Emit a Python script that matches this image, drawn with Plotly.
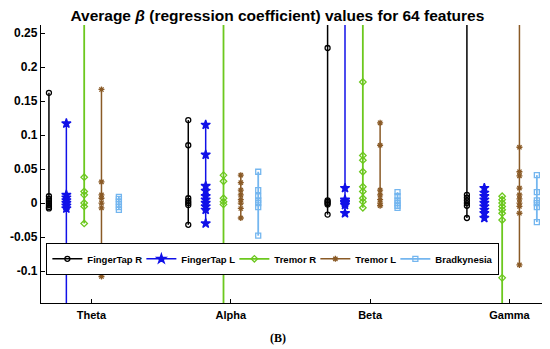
import plotly.graph_objects as go

bands = ["Theta", "Alpha", "Beta", "Gamma"]
series_names = ["FingerTap R", "FingerTap L", "Tremor R", "Tremor L", "Bradkynesia"]

# values per band (Theta, Alpha, Beta, Gamma); values beyond the axis range are clipped
fingertap_r = [
    [0.162, 0.010, 0.006, 0.003, 0.0, -0.003, -0.006, -0.008],
    [0.122, 0.085, 0.007, 0.003, 0.0, -0.003, -0.032],
    [0.30, 0.228, 0.004, 0.002, 0.0, -0.002, -0.017],
    [0.30, 0.012, 0.008, 0.004, 0.0, -0.004, -0.022],
]
fingertap_l = [
    [0.117, 0.012, 0.008, 0.004, 0.0, -0.004, -0.008, -0.20],
    [0.115, 0.071, 0.025, 0.018, 0.010, 0.005, 0.0, -0.005, -0.010, -0.030],
    [0.30, 0.022, 0.005, 0.002, 0.0, -0.003, -0.015],
    [0.022, 0.015, 0.010, 0.005, 0.0, -0.005, -0.010, -0.015, -0.022],
]
tremor_r = [
    [0.30, 0.038, 0.017, 0.012, 0.0, -0.005, -0.030],
    [0.30, 0.041, 0.032, 0.007, 0.002, -0.002, -0.20],
    [0.30, 0.178, 0.070, 0.063, 0.046, 0.024, 0.017, 0.007, 0.002, -0.007],
    [0.010, 0.005, 0.0, -0.005, -0.010, -0.015, -0.025, -0.110, -0.20],
]
tremor_l = [
    [0.167, 0.031, 0.012, 0.007, 0.0, -0.007, -0.108],
    [0.041, 0.030, 0.019, 0.012, 0.005, 0.0, -0.008, -0.022],
    [0.118, 0.085, 0.019, 0.012, 0.005, 0.0, -0.004],
    [0.30, 0.082, 0.046, 0.040, 0.022, 0.012, 0.006, 0.0, -0.005, -0.015, -0.091],
]
bradykinesia = [
    [0.009, 0.006, 0.002, -0.002, -0.006, -0.010],
    [0.046, 0.019, 0.010, 0.004, 0.0, -0.006, -0.048],
    [0.016, 0.010, 0.004, 0.0, -0.004, -0.007],
    [0.041, 0.016, 0.004, 0.0, -0.006, -0.028],
]

all_series = [fingertap_r, fingertap_l, tremor_r, tremor_l, bradykinesia]
offsets = [-0.305, -0.18, -0.052, 0.072, 0.197]
colors = ["#000000", "#1010e8", "#6cc81e", "#8a5a26", "#74b6ef"]
symbols = ["circle-open", "star", "diamond-open", "asterisk-open", "square-open"]
msizes = [5, 7, 5, 5, 5]
lwidths = [1.5, 1.5, 1.8, 1.5, 1.8]
legend_widths = [49, 48, 36, 35, 57]

fig = go.Figure()
for name, data, off, col, sym, ms, lw, lgw in zip(series_names, all_series, offsets, colors,
                                                    symbols, msizes, lwidths, legend_widths):
    xs, ys = [], []
    for bi, vals in enumerate(data):
        for v in sorted(vals, reverse=True):
            xs.append(bi + 1 + off)
            ys.append(v)
        xs.append(None)
        ys.append(None)
    fig.add_trace(go.Scatter(
        x=xs, y=ys, mode="lines+markers", name=name, legendwidth=lgw,
        line=dict(color=col, width=lw),
        marker=dict(symbol=sym, size=ms, color=col, line=dict(color=col, width=1.3)),
    ))

W, H = 542, 341  # page body has an 8px margin
fig.update_layout(
    width=W, height=H,
    margin=dict(l=27, r=2, t=17, b=46),
    plot_bgcolor="white", paper_bgcolor="white",
    font=dict(family="Liberation Sans, Arial", size=11, color="black"),
    title=dict(text="<b>Average <i>β</i> (regression coefficient) values for 64 features</b>",
               x=0.497, xref="container", xanchor="center", y=1 - 8 / H, yanchor="middle",
               font=dict(size=15.5, family="Liberation Sans, Arial", color="black")),
    showlegend=True,
    legend=dict(orientation="h", x=0.01, y=(295 - 235) / 278, xanchor="left", yanchor="top",
                bordercolor="black", borderwidth=1.3, bgcolor="white",
                font=dict(size=9.5, family="Liberation Sans, Arial", color="black", weight="bold"),
                itemwidth=30, tracegroupgap=0),
    annotations=[dict(text="<b>(B)</b>", x=(275 - 35) / 513, y=-(330 - 295) / 278,
                      xref="paper", yref="paper", xanchor="center", yanchor="middle",
                      showarrow=False,
                      font=dict(family="Liberation Serif, Times New Roman", size=12, color="black"))],
)

fig.update_xaxes(range=[0.638, 4.277], tickvals=[1, 2, 3, 4], ticktext=["<b>%s</b>" % b for b in bands],
                 showline=True, linecolor="black", linewidth=1.3, ticks="inside", ticklen=4,
                 tickcolor="black", showgrid=False, zeroline=False, mirror=False,
                 tickfont=dict(size=11), ticklabelstandoff=2)
fig.update_yaxes(range=[-0.147, 0.2618], tickvals=[-0.1, -0.05, 0, 0.05, 0.1, 0.15, 0.2, 0.25],
                 ticktext=["<b>-0.1</b>", "<b>-0.05</b>", "<b>0</b>", "<b>0.05</b>", "<b>0.1</b>",
                           "<b>0.15</b>", "<b>0.2</b>", "<b>0.25</b>"],
                 showline=True, linecolor="black", linewidth=1.3, ticks="inside", ticklen=4,
                 tickcolor="black", showgrid=False, zeroline=False, tickfont=dict(size=12))

fig.write_html("out.html")
